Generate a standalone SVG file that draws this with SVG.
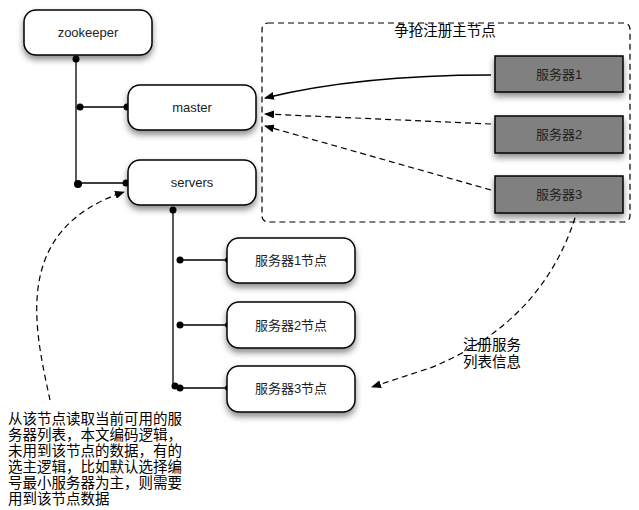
<svg xmlns="http://www.w3.org/2000/svg" width="639" height="510" viewBox="0 0 639 510">
<style>
.n{fill:#fff;stroke:#000;stroke-width:1.5}
.g{fill:#808080;stroke:#000;stroke-width:1.5}
.t{font-family:"Liberation Sans","Noto Sans CJK SC",sans-serif;font-size:13px;text-anchor:middle;fill:#222}
.c{font-family:"Liberation Sans","Noto Sans CJK SC",sans-serif;font-size:14.5px;fill:#000}
.l{fill:none;stroke:#000;stroke-width:1.3}
.d{fill:none;stroke:#000;stroke-width:1.2;stroke-dasharray:6,4}
</style>
<defs>
<filter id="sh" x="-20%" y="-20%" width="140%" height="160%"><feDropShadow dx="0" dy="4" stdDeviation="3" flood-color="#000" flood-opacity="0.45"/></filter>
<marker id="a" markerWidth="10" markerHeight="8" refX="9" refY="4" orient="auto" markerUnits="userSpaceOnUse"><path d="M0,0 L10,4 L0,8 Z" fill="#000"/></marker>
</defs>
<g id="group">
<rect x="262" y="23" width="368" height="199" rx="6" class="d"/>
<text x="445" y="36" class="c" text-anchor="middle" font-size="16">争抢注册主节点</text>
</g>
<g id="connectors">
<path class="l" d="M76,59 V183 M80,107 H127 M78,183 H126 M173,210 V385 M180,260 H228 M180,325 H228 M176,388 H228"/>
<g fill="#000"><circle cx="76" cy="59" r="3.5"/><circle cx="80" cy="107" r="3.5"/><circle cx="127" cy="107" r="3.5"/><circle cx="78" cy="184" r="4"/><circle cx="126" cy="183" r="3.5"/><circle cx="173" cy="210" r="3.5"/><circle cx="180" cy="260" r="3.5"/><circle cx="228" cy="260" r="3"/><circle cx="180" cy="325" r="3.5"/><circle cx="228" cy="325" r="3"/><circle cx="175" cy="386" r="3.5"/><circle cx="180" cy="388" r="3.5"/><circle cx="228" cy="388" r="3"/></g>
<path class="l" d="M491,75 C400,75 330,82 265,98" marker-end="url(#a)"/>
<path class="d" d="M491,124 L265,114" marker-end="url(#a)"/>
<path class="d" d="M491,190 L265,126" marker-end="url(#a)"/>
<path class="d" d="M578,208 C555,290 500,340 430,368 L372,387" marker-end="url(#a)"/>
<path class="d" d="M50,400 C35,330 10,230 124,192" marker-end="url(#a)"/>
</g>
<g id="zookeeper"><rect x="24" y="10" width="128" height="45" rx="12" class="n" filter="url(#sh)"/><text x="88" y="37" class="t">zookeeper</text></g>
<g id="master"><rect x="128" y="85" width="128" height="45" rx="12" class="n" filter="url(#sh)"/><text x="192" y="112" class="t">master</text></g>
<g id="servers"><rect x="128" y="160" width="128" height="45" rx="12" class="n" filter="url(#sh)"/><text x="192" y="187" class="t">servers</text></g>
<g id="s1"><rect x="495" y="56" width="128" height="36" class="g" filter="url(#sh)"/><text x="559" y="79" class="t">服务器1</text></g>
<g id="s2"><rect x="495" y="116" width="128" height="37" class="g" filter="url(#sh)"/><text x="559" y="139" class="t">服务器2</text></g>
<g id="s3"><rect x="495" y="176" width="128" height="37" class="g" filter="url(#sh)"/><text x="559" y="199" class="t">服务器3</text></g>
<g id="n1"><rect x="227" y="238" width="128" height="45" rx="12" class="n" filter="url(#sh)"/><text x="291" y="265" class="t">服务器1节点</text></g>
<g id="n2"><rect x="227" y="302" width="128" height="46" rx="12" class="n" filter="url(#sh)"/><text x="291" y="330" class="t">服务器2节点</text></g>
<g id="n3"><rect x="227" y="366" width="128" height="46" rx="12" class="n" filter="url(#sh)"/><text x="291" y="393" class="t">服务器3节点</text></g>
<g id="label1"><text class="c" x="463" y="350">注册服务</text><text class="c" x="463" y="367">列表信息</text></g>
<g id="note" class="c">
<text x="8" y="424">从该节点读取当前可用的服</text>
<text x="8" y="440">务器列表，本文编码逻辑，</text>
<text x="8" y="456">未用到该节点的数据，有的</text>
<text x="8" y="472">选主逻辑，比如默认选择编</text>
<text x="8" y="488">号最小服务器为主，则需要</text>
<text x="8" y="504">用到该节点数据</text>
</g>
</svg>
